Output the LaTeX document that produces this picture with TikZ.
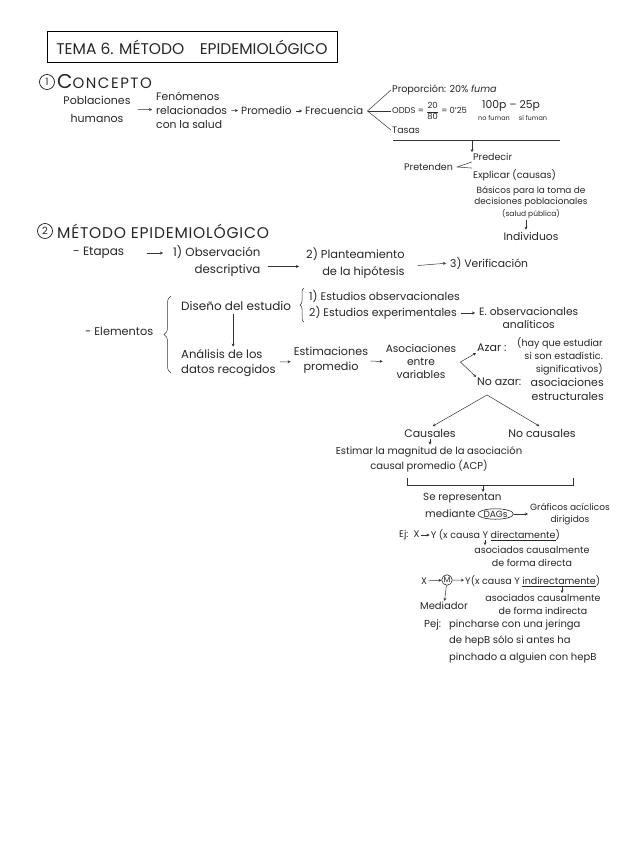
\documentclass[tikz,border=0pt]{standalone}
\usepackage{amsmath}
\usepackage{fontspec}
\setmainfont{Poppins}
\usetikzlibrary{arrows.meta,positioning,shapes.geometric,decorations.pathreplacing}

\begin{document}
\begin{tikzpicture}[
  x=1pt,y=-1pt,
  every node/.style={text=black!85},
  txt/.style={inner sep=1pt,align=center,font=\fontsize{11}{15}\selectfont},
  lft/.style={txt,anchor=west,align=left},
  note/.style={inner sep=1pt,align=center,font=\fontsize{9}{12}\selectfont},
  tiny/.style={inner sep=0.5pt,align=center,font=\fontsize{6.5}{8}\selectfont},
  head/.style={inner sep=1pt,anchor=west,font=\fontsize{15}{17}\selectfont\addfontfeature{LetterSpace=6}},
  num/.style={draw,circle,line width=0.6pt,minimum size=15pt,inner sep=0pt,
              font=\fontsize{10}{10}\selectfont},
  flow/.style={-{Stealth[length=3pt,width=3pt]},line width=0.5pt,black!80},
  fan/.style={line width=0.5pt,black!80}
]
\useasboundingbox (0,0) rectangle (636,848);

% titulo
\node[draw,line width=0.6pt,minimum width=290pt,minimum height=31pt,
      font=\fontsize{15.5}{17}\selectfont] (titulo) at (192,47)
      {TEMA 6. MÉTODO\quad EPIDEMIOLÓGICO};

% 1) concepto
\node[num] (n1) at (47,82) {1};
\node[head,font=\fontsize{15}{17}\selectfont\addfontfeature{LetterSpace=10}] (concepto) at (56,82)
     {{\fontsize{20}{20}\selectfont C}ONCEPTO};
\node[txt,font=\fontsize{11}{18}\selectfont] (pobl) at (97,109) {Poblaciones\\humanos};
\node[lft,font=\fontsize{10.8}{14}\selectfont] (fen) at (155,110) {Fenómenos\\relacionados\\con la salud};
\node[lft,font=\fontsize{10.5}{12}\selectfont] (prom) at (240,111) {Promedio};
\node[lft,font=\fontsize{10.5}{12}\selectfont] (frec) at (304,111) {Frecuencia};
\draw[flow,shorten <=6pt,shorten >=3pt] (pobl) -- (fen);
\draw[flow,shorten <=3pt,shorten >=2pt] (fen) -- (prom);
\draw[flow,shorten <=3pt,shorten >=2pt] (prom) -- (frec);

\node[lft,inner sep=0pt,font=\fontsize{9.6}{10}\selectfont] (prop) at (392,90) {Proporción: 20\% \textit{fuma}};
\node[lft,inner sep=0pt,font=\fontsize{8.4}{10}\selectfont] (odds) at (392,111)
     {ODDS = $\dfrac{\text{20}}{\text{80}}$ = 0'25};
\node[lft,inner sep=0pt,font=\fontsize{10.8}{12}\selectfont] (pares) at (482,106) {100p -- 25p};
\node[tiny] (nofuman) at (494,118) {no fuman};
\node[tiny] (sifuman) at (533,118) {sí fuman};
\node[lft,inner sep=0pt,font=\fontsize{9.4}{10}\selectfont] (tasas) at (392,130) {Tasas};
\coordinate (frecfan) at ([xshift=3pt]frec.east);
\draw[fan] ([xshift=-1pt]prop.west) -- (frecfan) -- ([xshift=-1pt]tasas.west);
\draw[fan] (frecfan) -- ([xshift=-1pt]odds.west);

\coordinate (barL) at (393,140);
\coordinate (barR) at (560,140);
\coordinate (barM) at (472,140);
\draw[fan] (barL) -- (barR);

\node[lft,font=\fontsize{9.5}{12}\selectfont] (pretenden) at (403,167) {Pretenden};
\node[lft,font=\fontsize{9.5}{12}\selectfont] (predecir) at (472,157) {Predecir};
\node[lft,font=\fontsize{9.6}{12}\selectfont] (explicar) at (472,175) {Explicar (causas)};
\draw[flow] (barM) -- (barM |- predecir.north);
\coordinate (pretfan) at ([xshift=3pt]pretenden.east);
\draw[fan] (predecir.south west) -- (pretfan) -- (explicar.north west);

\node[note,font=\fontsize{8.9}{11.5}\selectfont] (basicos) at (531,202)
     {Básicos para la toma de\\decisiones poblacionales\\{\fontsize{7.5}{8}\selectfont(salud pública)}};
\node[txt,font=\fontsize{10.8}{12}\selectfont] (individuos) at (531,236) {Individuos};
\draw[flow,shorten <=1pt,shorten >=1pt] ([xshift=-5pt]basicos.south) -- ([xshift=-5pt]basicos.south |- individuos.north);

% 2) metodo epidemiologico
\node[num] (n2) at (45,231) {2};
\node[head,font=\fontsize{15.5}{17}\selectfont\addfontfeature{LetterSpace=5}] (metodo) at (56,231) {MÉTODO EPIDEMIOLÓGICO};

\node[lft,font=\fontsize{12}{12}\selectfont] (etapas) at (72,253) {- Etapas};
\node[lft,align=right,font=\fontsize{11.8}{17}\selectfont] (obs) at (172,261.5) {1) Observación\\descriptiva};
\node[lft,align=right,font=\fontsize{11.4}{17}\selectfont] (plan) at (305,263.5) {2) Planteamiento\\de la hipótesis};
\node[lft,font=\fontsize{10.8}{12}\selectfont] (verif) at (449,263) {3) Verificación};
\draw[flow,shorten <=22pt,shorten >=9pt] (etapas.east) -- (etapas.east -| obs.west);
\draw[flow,shorten <=6pt,shorten >=6pt] ([yshift=-5pt]obs.east) -- ([yshift=-3pt]plan.west);
\draw[flow,shorten <=12pt,shorten >=3pt] ([yshift=-3pt]plan.east) -- (verif.west);

\node[lft,font=\fontsize{11.3}{13}\selectfont] (elem) at (84,331) {- Elementos};
\draw[fan,decorate,decoration={brace,amplitude=7pt}] (171,373) -- (171,296);
\node[lft,font=\fontsize{12}{13}\selectfont] (diseno) at (180,306) {Diseño del estudio};
\draw[fan,decorate,decoration={brace,amplitude=4pt}] (304,322) -- (304,288);
\node[lft,font=\fontsize{11}{12}\selectfont] (est1) at (308,296) {1) Estudios observacionales};
\node[lft,font=\fontsize{11}{12}\selectfont] (est2) at (308,313) {2) Estudios experimentales};
\node[txt,anchor=west,font=\fontsize{10.7}{13}\selectfont] (eobs) at (478,317.5) {E. observacionales\\analíticos};
\draw[flow,shorten <=3pt,shorten >=3pt] (est2.east) -- (est2.east -| eobs.west);

\node[lft,font=\fontsize{11.6}{15}\selectfont] (analisis) at (180,363.5) {Análisis de los\\datos recogidos};
\draw[flow,shorten <=2pt,shorten >=2pt] ([xshift=-3pt]diseno.south) -- ([xshift=-3pt]diseno.south |- analisis.north);
\node[txt,font=\fontsize{11.2}{15}\selectfont] (estim) at (331,360.5) {Estimaciones\\promedio};
\node[txt,font=\fontsize{10.6}{13}\selectfont] (asoc) at (421,362) {Asociaciones\\entre\\variables};
\draw[flow,shorten <=3pt,shorten >=2pt] (analisis) -- (estim);
\draw[flow,shorten <=1pt,shorten >=2pt] (estim) -- (asoc);

\node[lft,font=\fontsize{11}{12}\selectfont] (azar) at (476,348) {Azar :};
\node[note,anchor=east,align=right,font=\fontsize{9.6}{13}\selectfont] (hay) at (604,356)
     {(hay que estudiar\\si son estadístic.\\significativos)};
\node[lft,font=\fontsize{11}{12}\selectfont] (noazar) at (476,382) {No azar:};
\node[txt,anchor=east,align=right,font=\fontsize{11}{14}\selectfont] (estruct) at (605,389)
     {asociaciones\\estructurales};
\coordinate (asocfan) at ([xshift=3pt]asoc.east);
\draw[flow] (asocfan) -- (azar.south west);
\draw[flow] (asocfan) -- (noazar.north west);

\coordinate (split) at (487,395);
\node[txt] (causales) at (430,433) {Causales};
\node[txt] (nocausales) at (542,433) {No causales};
\draw[flow,shorten >=3pt] (split) -- (causales.north);
\draw[flow,shorten >=3pt] (split) -- (nocausales.north);

\node[note,font=\fontsize{10}{15}\selectfont] (acp) at (429,459.5)
     {Estimar la magnitud de la asociación\\causal promedio (ACP)};
\draw[flow,shorten <=1pt,shorten >=1pt] (causales) -- (causales |- acp.north);

% llave inferior
\coordinate (brL) at (407,478);
\coordinate (brR) at (573,478);
\coordinate (brM) at (483,485);
\draw[fan] (brL) -- ++(0,7) -| (brR);

\node[lft,font=\fontsize{10.3}{12}\selectfont] (serep) at (422,498) {Se representan};
\node[lft,font=\fontsize{10.3}{12}\selectfont] (mediante) at (424,514) {mediante};
\node[ellipse,draw,line width=0.5pt,inner sep=0.5pt,right=1pt of mediante,
      font=\fontsize{9}{10}\selectfont] (dags) {DAGs};
\node[note,anchor=west,font=\fontsize{9}{12}\selectfont] (graf) at (529,514) {Gráficos acíclicos\\dirigidos};
\draw[flow] (brM) -- (brM |- serep.north);
\draw[flow,shorten >=1pt] (dags) -- (graf);

\node[lft,font=\fontsize{9.5}{12}\selectfont] (ejx) at (398,535) {Ej:\ \ X};
\node[lft,font=\fontsize{9.5}{12}\selectfont,right=9pt of ejx] (ejy) {Y (x causa Y \underline{directamente})};
\draw[flow] (ejx) -- (ejy);
\node[txt,font=\fontsize{9.5}{13}\selectfont] (asocdir) at (532,556.5) {asociados causalmente\\de forma directa};
\coordinate (dir) at (485,540);
\draw[flow] (dir) -- (dir |- asocdir.north);

\node[lft,font=\fontsize{9.5}{12}\selectfont] (mx) at (420,581) {X};
\node[circle,draw,line width=0.5pt,inner sep=0.6pt,font=\fontsize{8}{8}\selectfont] (mm) at (447,580) {M};
\node[lft,font=\fontsize{9.5}{12}\selectfont] (my) at (464,581) {Y(x causa Y \underline{indirectamente})};
\draw[flow] (mx) -- (mm);
\draw[flow] (mm) -- (my);
\node[txt,font=\fontsize{10}{12}\selectfont] (mediador) at (444,606) {Mediador};
\draw[flow] (mm) -- (mediador);
\node[txt,font=\fontsize{9.5}{13}\selectfont] (asocind) at (543,604.5) {asociados causalmente\\de forma indirecta};
\coordinate (indir) at (562,587);
\draw[flow] (indir) -- (indir |- asocind.north);

\node[lft,font=\fontsize{10.2}{16.5}\selectfont] (pej) at (423,625) {Pej:};
\node[lft,font=\fontsize{10}{16.5}\selectfont] (ejemplo) at (448,641.5)
     {pincharse con una jeringa\\de hepB sólo si antes ha\\pinchado a alguien con hepB};
\end{tikzpicture}
\end{document}
